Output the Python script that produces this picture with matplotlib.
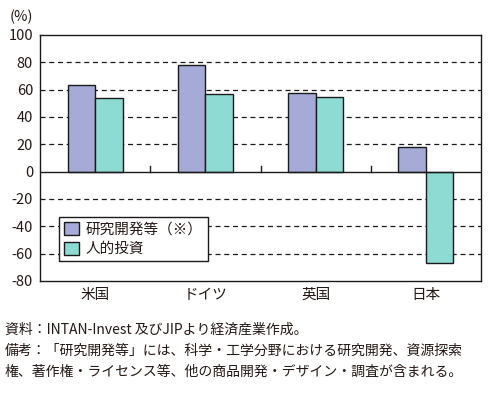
import numpy as np
import matplotlib
matplotlib.use("Agg")
import matplotlib.pyplot as plt
from matplotlib.patches import Patch

plt.rcParams['font.family'] = ['Noto Sans CJK JP', 'DejaVu Sans']

# データ
countries = ["米国", "ドイツ", "英国", "日本"]
rd_values = [63.2, 77.8, 57.8, 17.8]
hr_values = [53.7, 56.6, 54.4, -67.0]
series_labels = ["研究開発等（※）", "人的投資"]
y_ticks = [100, 80, 60, 40, 20, 0, -20, -40, -60, -80]
note_lines = [
    "資料：INTAN-Invest 及びJIPより経済産業作成。",
    "備考：「研究開発等」には、科学・工学分野における研究開発、資源探索",
    "権、著作権・ライセンス等、他の商品開発・デザイン・調査が含まれる。",
]

color_rd = "#a5aad6"
color_hr = "#8ddbd3"
text_color = "#231815"

fig = plt.figure(figsize=(4.9, 4.0), dpi=100)
ax = fig.add_axes([40 / 490, 1 - 281 / 400, 441 / 490, 246 / 400])

x = np.arange(len(countries))
w = 0.25
ax.bar(x - w / 2, rd_values, w, color=color_rd, edgecolor="#1a1a1a", linewidth=1.0, zorder=3)
ax.bar(x + w / 2, hr_values, w, color=color_hr, edgecolor="#1a1a1a", linewidth=1.0, zorder=3)

ax.set_xlim(-0.5, len(countries) - 0.5)
ax.set_ylim(-80, 100)
ax.set_yticks(y_ticks)
ax.set_yticklabels([str(v) for v in y_ticks])
ax.set_xticks(x)
ax.set_xticklabels(countries)
ax.tick_params(axis="both", length=0, labelsize=10.5, colors=text_color, pad=5)

# 補助線
for v in y_ticks:
    if v in (100, -80):
        continue
    if v == 0:
        ax.axhline(0, color="#1a1a1a", linewidth=1.0, zorder=4)
    else:
        ax.axhline(v, color="#1a1a1a", linewidth=0.9, linestyle=(0, (4, 3)), zorder=1)

# 区切りの目盛り
for b in x[:-1] + 0.5:
    ax.plot([b, b], [0, 4.5], color="#1a1a1a", linewidth=1.0, zorder=4)

for s in ax.spines.values():
    s.set_color("#1a1a1a")
    s.set_linewidth(1.0)

fig.text(10 / 490, 1 - 17 / 400, "(%)", fontsize=10.5, color=text_color, va="center", ha="left")

handles = [Patch(facecolor=color_rd, edgecolor="#1a1a1a", linewidth=1.0),
           Patch(facecolor=color_hr, edgecolor="#1a1a1a", linewidth=1.0)]
leg = ax.legend(handles, series_labels, loc="upper left",
                bbox_to_anchor=((59 - 40) / 441, (281 - 217) / 246),
                borderaxespad=0, fontsize=10.5, frameon=True, fancybox=False,
                framealpha=1, edgecolor="#1a1a1a", handlelength=1.0,
                handleheight=1.0, handletextpad=0.5, borderpad=0.35,
                labelspacing=0.35)
leg.get_frame().set_linewidth(1.0)
for t in leg.get_texts():
    t.set_color(text_color)

for i, line in enumerate(note_lines):
    fig.text(5 / 490, 1 - (330 + 21 * i) / 400, line, fontsize=10,
             color=text_color, va="center", ha="left")

fig.savefig("out.png", dpi=100)
